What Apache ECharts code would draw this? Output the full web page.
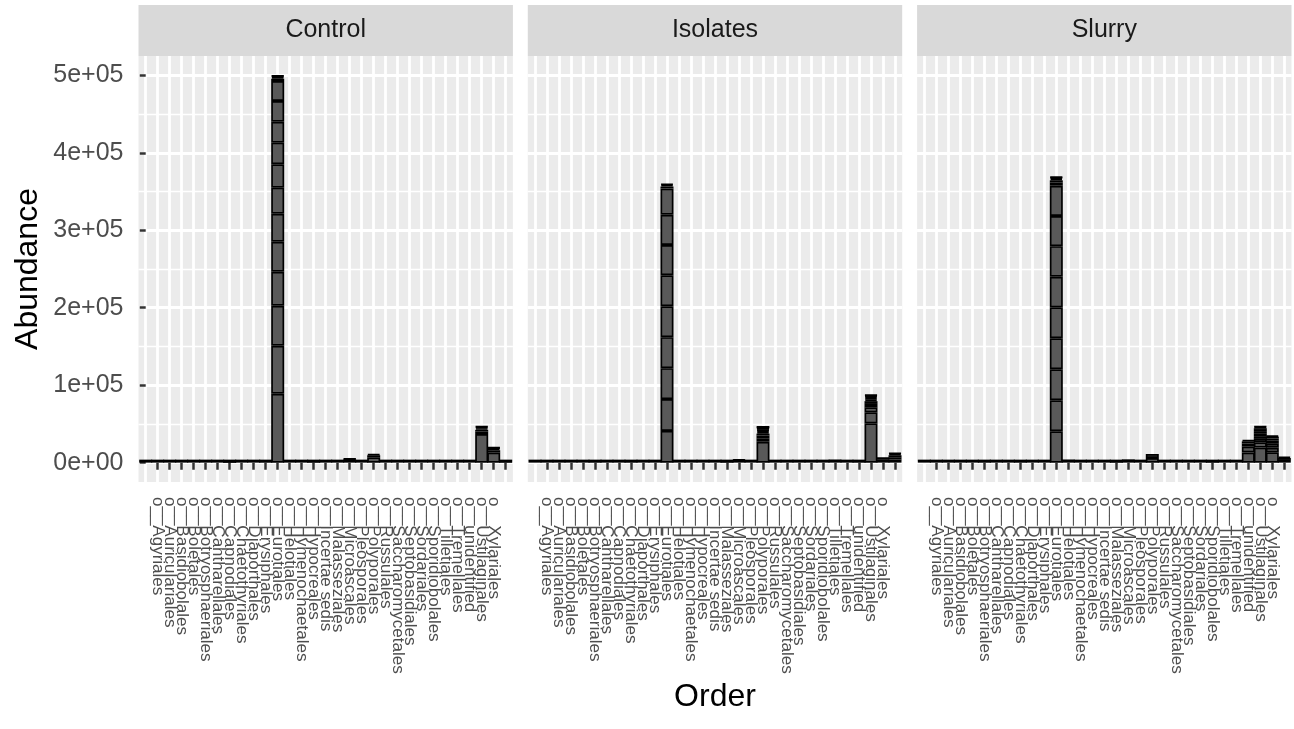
<!DOCTYPE html>
<html>
<head>
<meta charset="utf-8">
<script src="https://cdn.jsdelivr.net/npm/echarts@6/dist/echarts.min.js"></script>
<style>
  html, body { margin: 0; padding: 0; background: #ffffff; }
  #chart { width: 1294px; height: 729px; }
</style>
</head>
<body>
<div id="chart"></div>
<script>
// Facet panels (one per treatment)
const panels = ['Control', 'Isolates', 'Slurry'];

// Fungal orders on the x axis; the last level has no name
const orders = [
  'o__Agaricales', 'o__Agyriales', 'o__Auriculariales', 'o__Basidiobolales', 'o__Boletales',
  'o__Botryosphaeriales', 'o__Cantharellales', 'o__Capnodiales', 'o__Chaetothyriales', 'o__Diaporthales',
  'o__Erysiphales', 'o__Eurotiales', 'o__Helotiales', 'o__Hymenochaetales', 'o__Hypocreales',
  'o__Incertae sedis', 'o__Malasseziales', 'o__Microascales', 'o__Pleosporales', 'o__Polyporales',
  'o__Russulales', 'o__Saccharomycetales', 'o__Septobasidiales', 'o__Sordariales', 'o__Sporidiobolales',
  'o__Tilletiales', 'o__Tremellales', 'o__unidentified', 'o__Ustilaginales', 'o__Xylariales', ''
];

// Per-sample abundances stacked in each order, bottom to top
const controlSegments = [
  [800], [0], [0], [0], [0], [900], [0], [700, 300], [800], [0],
  [1500, 500],
  [89000, 62000, 51600, 43900, 38700, 36200, 33600, 30200, 27900, 27100, 26700, 25800, 3000, 2000, 1300, 1000],
  [300], [0], [1200, 400], [0], [500], [3000, 1500, 800], [300], [7000, 2500, 1500],
  [400], [0], [0], [0], [600], [1800, 700], [300], [1800, 600],
  [37000, 3000, 2400, 2000, 1500, 1000],
  [13000, 3000, 2000, 1000, 800],
  [1200, 400]
];

const isolatesSegments = [
  [500], [300], [400], [300], [600], [1500, 500], [400], [500], [1500, 500], [200],
  [300],
  [41000, 41000, 40000, 40000, 40000, 40000, 39000, 39000, 34000, 2500, 2000, 1500],
  [1500, 700], [300], [400], [300], [1000, 500], [3000, 1500], [400],
  [27000, 4500, 3500, 2500, 2000, 1800, 1500, 1200, 1000, 800, 500],
  [200], [0], [0], [300], [1000], [2000, 1000], [300], [1200, 500],
  [50700, 14200, 6500, 3000, 2500, 2500, 2000, 2000, 1800, 1500, 1100],
  [4000, 1500, 800],
  [4000, 3000, 2500, 1800, 1200]
];

const slurrySegments = [
  [300], [200], [200], [300], [500], [1500, 500], [400], [400], [1500, 500], [300],
  [400],
  [40500, 40000, 40000, 40000, 40000, 39500, 39500, 39000, 39000, 4000, 3000, 2000, 1500, 1000],
  [2000, 1000], [300], [400], [300], [1000, 500], [2500, 1000], [500],
  [6000, 5000],
  [200], [0], [0], [300], [1000, 500], [300], [200],
  [13000, 7700, 4000, 2800, 1800],
  [19400, 6800, 4500, 3500, 3000, 2500, 2500, 2200, 1500, 1000],
  [13300, 6000, 5000, 4000, 3000, 2200, 1400],
  [3500, 2500, 1700]
];

// Abundance axis breaks
const yTickValues = [0, 100000, 200000, 300000, 400000, 500000];
const yTickLabels = ['0e+00', '1e+05', '2e+05', '3e+05', '4e+05', '5e+05'];
const yMinorValues = [50000, 150000, 250000, 350000, 450000];

// ---- layout and styling ----
const FONT = '"Liberation Sans", Arial, Helvetica, sans-serif';
const panelLeft = [138.5, 527.8, 917.1];
const panelWidth = 374.4;
const panelTop = 56;
const panelHeight = 426;
const stripTop = 5;
const stripHeight = 51;

const segmentsByPanel = [controlSegments, isolatesSegments, slurrySegments];

// y limits: data range expanded by 5% on each side
const maxTotal = Math.max(...segmentsByPanel.flatMap(segs => segs.map(s => s.reduce((a, b) => a + b, 0))));
const yMin = -0.05 * maxTotal;
const yMax = 1.05 * maxTotal;
// x limits: discrete scale expanded by 0.6 of a step
const xMin = -0.6;
const xMax = orders.length - 1 + 0.6;
const xTickValues = orders.map((_, i) => i);

const grids = [];
const xAxes = [];
const yAxes = [];
const series = [];

panels.forEach((name, p) => {
  grids.push({
    left: panelLeft[p], top: panelTop, width: panelWidth, height: panelHeight,
    show: true, backgroundColor: '#EBEBEB', borderWidth: 0,
    containLabel: false, outerBoundsMode: 'none'
  });

  xAxes.push({
    type: 'value', gridIndex: p, min: xMin, max: xMax,
    name: p === 1 ? 'Order' : '',
    nameLocation: 'middle', nameGap: 197,
    nameTextStyle: { fontSize: 32, color: '#000000', fontFamily: FONT },
    axisLine: { show: false },
    axisTick: { show: true, customValues: xTickValues, length: 7, lineStyle: { color: '#333333', width: 2.5 } },
    axisLabel: {
      show: true, customValues: xTickValues, rotate: -90, margin: 15,
      fontSize: 17, color: '#4D4D4D', fontFamily: FONT,
      formatter: v => orders[Math.round(v)] || ''
    },
    splitLine: { show: true, lineStyle: { color: '#FFFFFF', width: 2.8 } }
  });

  // major breaks (labels, ticks, thick grid lines)
  yAxes.push({
    type: 'value', gridIndex: p, min: yMin, max: yMax, position: 'left',
    name: p === 0 ? 'Abundance' : '',
    nameLocation: 'middle', nameRotate: 90, nameGap: 94,
    nameTextStyle: { fontSize: 32, color: '#000000', fontFamily: FONT },
    axisLine: { show: false },
    axisTick: { show: p === 0, customValues: yTickValues, length: 6, lineStyle: { color: '#333333', width: 2.5 } },
    axisLabel: {
      show: p === 0, customValues: yTickValues, margin: 15,
      fontSize: 25, color: '#4D4D4D', fontFamily: FONT,
      formatter: v => yTickLabels[yTickValues.indexOf(v)] || ''
    },
    splitLine: { show: true, lineStyle: { color: '#FFFFFF', width: 2.8 } }
  });

  // minor breaks (thin grid lines only)
  yAxes.push({
    type: 'value', gridIndex: p, min: yMin, max: yMax, position: 'left',
    axisLine: { show: false },
    axisTick: { show: false, customValues: yMinorValues },
    axisLabel: { show: false, customValues: yMinorValues },
    splitLine: { show: true, lineStyle: { color: '#FFFFFF', width: 1.4 } }
  });

  // one bar series per stacking level; the abundance column comes first
  // so that the stack accumulates along the y axis
  const segs = segmentsByPanel[p];
  const depth = Math.max(...segs.map(s => s.length));
  for (let k = 0; k < depth; k++) {
    series.push({
      type: 'bar', xAxisIndex: p, yAxisIndex: 2 * p, stack: 'panel' + p,
      barWidth: 13, barMinHeight: k === 0 ? 3 : 0,
      encode: { x: 1, y: 0 },
      itemStyle: { color: '#595959', borderColor: '#000000', borderWidth: 1.7 },
      emphasis: { disabled: true },
      silent: true,
      data: segs.map((s, i) => [k < s.length ? s[k] : '-', i])
    });
  }
});

// facet strips
const graphic = panels.flatMap((name, p) => [
  {
    type: 'rect', silent: true,
    shape: { x: panelLeft[p], y: stripTop, width: panelWidth, height: stripHeight },
    style: { fill: '#D9D9D9' }
  },
  {
    type: 'text', silent: true,
    x: panelLeft[p] + panelWidth / 2, y: stripTop + stripHeight / 2,
    style: { text: name, fill: '#1A1A1A', font: '25px ' + FONT, align: 'center', verticalAlign: 'middle' }
  }
]);

const chart = echarts.init(document.getElementById('chart'), null, { renderer: 'canvas' });
chart.setOption({
  animation: false,
  backgroundColor: '#FFFFFF',
  textStyle: { fontFamily: FONT },
  grid: grids,
  xAxis: xAxes,
  yAxis: yAxes,
  series: series,
  graphic: graphic
});
</script>
</body>
</html>
